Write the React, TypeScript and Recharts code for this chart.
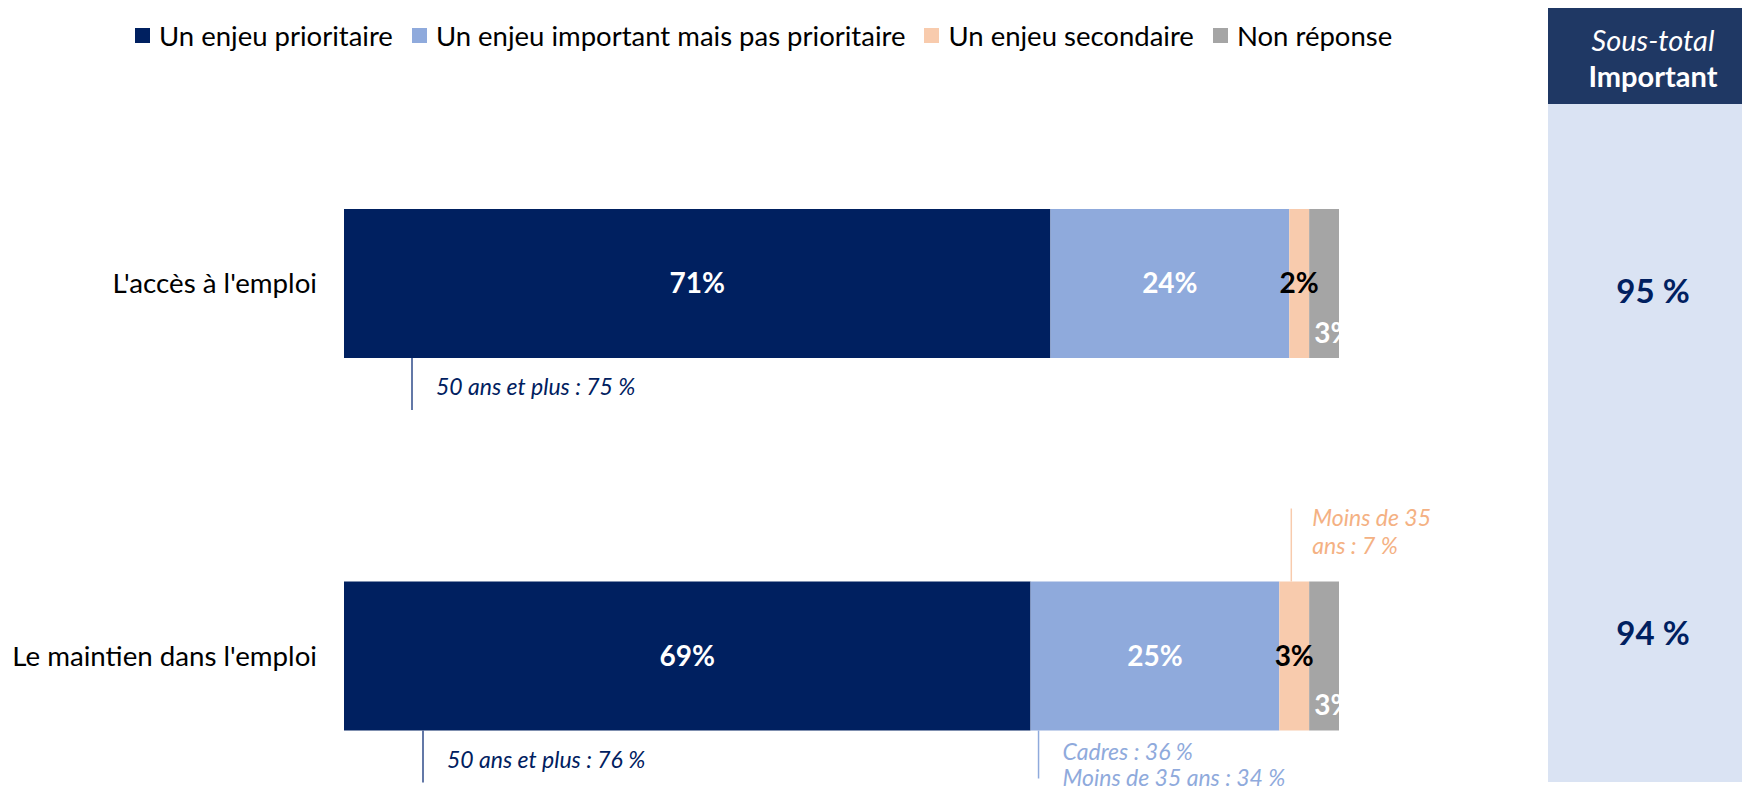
import React from 'react';
import { BarChart, Bar, XAxis, YAxis, LabelList } from 'recharts';

// ---------- data ----------
const categories = ["L'accès à l'emploi", "Le maintien dans l'emploi"];
const prioritaire = [71, 69];
const importantNonPrio = [24, 25];
const secondaire = [2, 3];
const nonReponse = [3, 3];
const subtotals = [95, 94];

const seriesNames = [
  'Un enjeu prioritaire',
  'Un enjeu important mais pas prioritaire',
  'Un enjeu secondaire',
  'Non réponse',
];

const notesPrioritaire = [['50 ans et plus : 75 %'], ['50 ans et plus : 76 %']];
const notesImportant = [[], ['Cadres : 36 %', 'Moins de 35 ans : 34 %']];
const notesSecondaire = [[], ['Moins de 35', 'ans : 7 %']];

// ---------- styles ----------
const COLORS = ['#002060', '#8FAADC', '#F8CBAD', '#A5A5A5'];
const FONT = 'Lato, "Noto Sans", sans-serif';
const NOTE_DX_P = [68, 79];
const NOTE_DX_I = [8, 8];
const NOTE_DX_S = [12, 12];

const makeValueLabel = (fill: string) => (props: any) => {
  const vb = props.viewBox || props;
  const { x, y, width, height } = vb;
  if (props.value == null) return null;
  return (
    <text
      x={x + width / 2}
      y={y + height / 2}
      dy="0.35em"
      textAnchor="middle"
      fill={fill}
      fontFamily={FONT}
      fontWeight={700}
      fontSize={28}
    >
      {`${props.value}%`}
    </text>
  );
};

const GrayLabel = (props: any) => {
  const vb = props.viewBox || props;
  const { x, y, width, height } = vb;
  const id = `clip-gray-${props.index}`;
  return (
    <g>
      <defs>
        <clipPath id={id}>
          <rect x={x} y={y} width={width} height={height} />
        </clipPath>
      </defs>
      <text
        x={x + 5}
        y={y + height - 25}
        dy="0.35em"
        textAnchor="start"
        fill="#fff"
        fontFamily={FONT}
        fontWeight={700}
        fontSize={28}
        clipPath={`url(#${id})`}
      >
        {`${props.value}%`}
      </text>
    </g>
  );
};

const makeNoteBelow = (
  notes: string[][],
  dxs: number[],
  firstDy: number,
  lineGap: number,
  lineLen: number,
  color: string,
  lineColor: string
) => (props: any) => {
  const vb = props.viewBox || props;
  const { x, y, height } = vb;
  const idx = props.index;
  const lines = notes[idx] || [];
  if (!lines.length) return null;
  const lx = x + dxs[idx];
  const base = y + height;
  return (
    <g>
      <line x1={lx} x2={lx} y1={base} y2={base + lineLen} stroke={lineColor} strokeWidth={1.5} />
      {lines.map((t, i) => (
        <text
          key={i}
          x={lx + 24}
          y={base + firstDy + i * lineGap}
          dy="0.35em"
          fill={color}
          fontFamily={FONT}
          fontStyle="italic"
          fontSize={23}
        >
          {t}
        </text>
      ))}
    </g>
  );
};

const makeNoteAbove = (notes: string[][], dxs: number[], color: string, lineColor: string) => (props: any) => {
  const vb = props.viewBox || props;
  const { x, y } = vb;
  const idx = props.index;
  const lines = notes[idx] || [];
  if (!lines.length) return null;
  const lx = x + dxs[idx];
  return (
    <g>
      <line x1={lx} x2={lx} y1={y - 73} y2={y} stroke={lineColor} strokeWidth={1.5} />
      {lines.map((t, i) => (
        <text
          key={i}
          x={lx + 21}
          y={y - 64 + i * 28}
          dy="0.35em"
          fill={color}
          fontFamily={FONT}
          fontStyle="italic"
          fontSize={23}
        >
          {t}
        </text>
      ))}
    </g>
  );
};

export default function App() {
  const data = categories.map((c, i) => ({
    cat: c,
    p: prioritaire[i],
    imp: importantNonPrio[i],
    sec: secondaire[i],
    nr: nonReponse[i],
  }));

  return (
    <div
      style={{
        position: 'absolute',
        left: 0,
        top: 0,
        width: 1742,
        height: 790,
        overflow: 'hidden',
        background: '#fff',
        fontFamily: FONT,
      }}
    >
      {/* right panel */}
      <div style={{ position: 'absolute', left: 1548, top: 8, width: 194, height: 96, background: '#1F3864' }} />
      <div style={{ position: 'absolute', left: 1548, top: 104, width: 194, height: 678, background: '#DAE3F3' }} />
      <div
        style={{
          position: 'absolute',
          left: 1548,
          width: 210,
          top: 22,
          textAlign: 'center',
          color: '#fff',
          fontSize: 29,
          lineHeight: '36px',
        }}
      >
        <div style={{ fontStyle: 'italic' }}>Sous-total</div>
        <div style={{ fontWeight: 700 }}>Important</div>
      </div>
      {subtotals.map((v, i) => (
        <div
          key={i}
          style={{
            position: 'absolute',
            left: 1548,
            width: 210,
            top: (i === 0 ? 290 : 632) - 20,
            height: 40,
            lineHeight: '40px',
            textAlign: 'center',
            color: '#002060',
            fontWeight: 700,
            fontSize: 33,
          }}
        >
          {`${v} %`}
        </div>
      ))}

      {/* legend */}
      <div
        style={{
          position: 'absolute',
          left: 135,
          top: 17,
          height: 36,
          display: 'flex',
          alignItems: 'center',
          gap: 19,
          fontSize: 27.5,
          color: '#000',
          whiteSpace: 'nowrap',
        }}
      >
        {seriesNames.map((n, i) => (
          <div key={i} style={{ display: 'flex', alignItems: 'center' }}>
            <span style={{ display: 'inline-block', width: 15, height: 15, background: COLORS[i], marginRight: 9 }} />
            <span>{n}</span>
          </div>
        ))}
      </div>

      <div style={{ position: 'absolute', left: 0, top: 0 }}>
        <BarChart
          width={1742}
          height={842}
          data={data}
          layout="vertical"
          margin={{ top: 97, right: 403, bottom: 0, left: 0 }}
          barCategoryGap={0}
        >
          <XAxis type="number" domain={[0, 100]} hide />
          <YAxis
            type="category"
            dataKey="cat"
            width={344}
            axisLine={false}
            tickLine={false}
            tickSize={0}
            tickMargin={27}
            tick={{ fill: '#000', fontSize: 27.7, fontFamily: FONT }}
          />
          <Bar dataKey="p" stackId="a" fill={COLORS[0]} barSize={149} isAnimationActive={false}>
            <LabelList dataKey="p" content={makeValueLabel('#fff')} />
            <LabelList
              dataKey="p"
              content={makeNoteBelow(notesPrioritaire, NOTE_DX_P, 29, 28, 52, '#002060', '#2F4B8A')}
            />
          </Bar>
          <Bar dataKey="imp" stackId="a" fill={COLORS[1]} barSize={149} isAnimationActive={false}>
            <LabelList dataKey="imp" content={makeValueLabel('#fff')} />
            <LabelList
              dataKey="imp"
              content={makeNoteBelow(notesImportant, NOTE_DX_I, 21, 26, 48, '#8FAADC', '#8FAADC')}
            />
          </Bar>
          <Bar dataKey="sec" stackId="a" fill={COLORS[2]} barSize={149} isAnimationActive={false}>
            <LabelList dataKey="sec" content={makeValueLabel('#000')} />
            <LabelList dataKey="sec" content={makeNoteAbove(notesSecondaire, NOTE_DX_S, '#F4B183', '#F8CBAD')} />
          </Bar>
          <Bar dataKey="nr" stackId="a" fill={COLORS[3]} barSize={149} isAnimationActive={false}>
            <LabelList dataKey="nr" content={GrayLabel} />
          </Bar>
        </BarChart>
      </div>
    </div>
  );
}
